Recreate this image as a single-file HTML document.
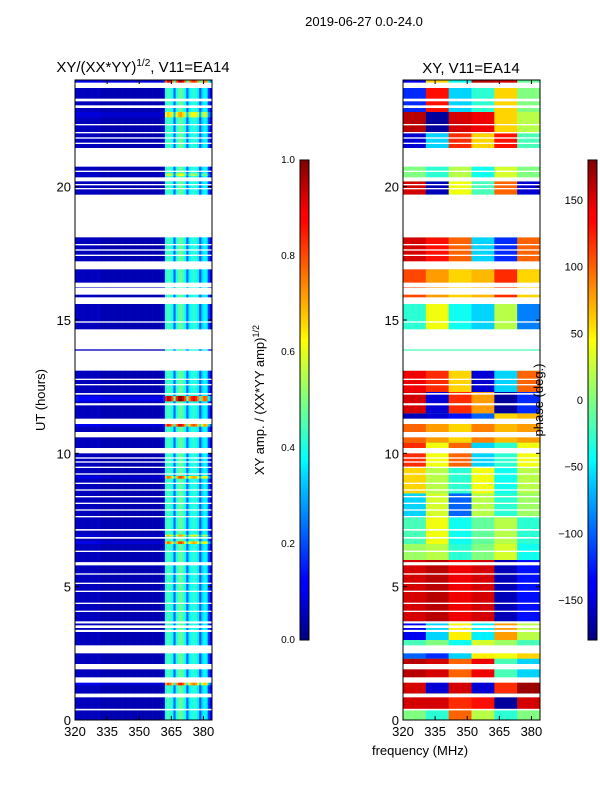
<!DOCTYPE html>
<html><head><meta charset="utf-8"><style>
body{margin:0;background:#fff;}
svg text{font-family:"Liberation Sans",sans-serif;}
</style></head><body>
<svg id="fig" width="600" height="800" xmlns="http://www.w3.org/2000/svg">
<rect width="600" height="800" fill="#fff"/>
<text x="364" y="26" font-size="13" text-anchor="middle">2019-06-27 0.0-24.0</text>
<text x="143" y="72" font-size="15" text-anchor="middle">XY/(XX*YY)<tspan font-size="10" dy="-6">1/2</tspan><tspan dy="6">, V11=EA14</tspan></text>
<text x="471" y="73" font-size="15" text-anchor="middle">XY, V11=EA14</text>
<g id="left"></g>
<g id="right"></g>
<g id="axes"></g>
<text x="45" y="400" font-size="13" text-anchor="middle" transform="rotate(-90 45 400)">UT (hours)</text>
<text x="420" y="755" font-size="13" text-anchor="middle">frequency (MHz)</text>
<text x="264" y="400" font-size="13" text-anchor="middle" transform="rotate(-90 264 400)">XY amp. / (XX*YY amp)<tspan font-size="9" dy="-5">1/2</tspan></text>
<text x="543" y="400" font-size="13" text-anchor="middle" transform="rotate(-90 543 400)">phase (deg.)</text>
<defs>
<linearGradient id="jet" x1="0" y1="1" x2="0" y2="0">
<stop offset="0" stop-color="#00007f"/><stop offset="0.11" stop-color="#0000ff"/><stop offset="0.125" stop-color="#0000ff"/>
<stop offset="0.34" stop-color="#00d5ff"/><stop offset="0.375" stop-color="#00ffff"/><stop offset="0.5" stop-color="#7fff7f"/>
<stop offset="0.625" stop-color="#ffff00"/><stop offset="0.66" stop-color="#ffd500"/><stop offset="0.875" stop-color="#ff0000"/>
<stop offset="0.89" stop-color="#ff0000"/><stop offset="1" stop-color="#7f0000"/></linearGradient>
</defs>
<rect x="300" y="160" width="9" height="480" fill="url(#jet)" stroke="#000" stroke-width="1"/>
<rect x="588" y="160" width="9" height="480" fill="url(#jet)" stroke="#000" stroke-width="1"/>
<g id="cbticks"></g>
</svg>
<script>
const NS="http://www.w3.org/2000/svg";
const ampChannels=[0.07,0.07,0.06,0.06,0.06,0.06,0.06,0.06,0.06,0.06,0.06,0.06,0.05,0.05,0.05,0.05,0.05,0.05,0.05,0.05,0.05,0.05,0.05,0.05,0.05,0.05,0.05,0.05,0.05,0.05,0.05,0.05,0.05,0.05,0.05,0.05,0.05,0.05,0.05,0.05,0.05,0.08,0.40,0.45,0.43,0.38,0.22,0.40,0.46,0.48,0.44,0.38,0.22,0.36,0.40,0.42,0.40,0.36,0.20,0.34,0.38,0.36,0.18,0.12];
const hotRows=[[11.95,12.15,2.1],[11.0,11.12,1.9],[9.05,9.15,1.7],[6.6,6.7,1.7],[6.88,6.95,1.5],[1.3,1.48,1.8],[0.85,0.95,1.4],[23.85,24,2.0],[22.6,22.8,1.5],[20.4,20.5,1.3]];
const gaps=[[0.36,0.42],[0.85,0.99],[1.4,1.6],[1.9,2.1],[2.5,2.8],[3.3,3.38],[3.45,3.55],[3.62,3.7],[4.05,4.1],[4.35,4.4],[4.8,4.85],[5.1,5.15],[5.45,5.5],[5.8,5.92],[6.3,6.35],[6.8,6.86],[7.1,7.16],[7.6,7.65],[7.85,7.9],[8.1,8.15],[8.35,8.4],[8.6,8.65],[8.85,8.9],[9.2,9.25],[9.45,9.5],[9.65,9.7],[9.8,9.85],[10.0,10.2],[10.6,10.8],[11.1,11.3],[11.8,11.88],[12.2,12.26],[12.55,12.6],[12.75,12.8],[13.1,13.85],[13.9,14.65],[14.9,14.95],[15.6,15.85],[15.95,16.2],[16.22,16.4],[16.9,17.2],[17.4,17.45],[17.6,17.65],[17.8,17.85],[18.1,19.7],[19.9,19.95],[20.05,20.1],[20.2,20.35],[20.55,20.6],[20.75,21.45],[21.6,21.65],[21.8,21.85],[22.0,22.05],[22.3,22.35],[22.95,23.05],[23.2,23.3],[23.7,23.9]];
const phaseBands=[[0,0.4],[0.4,1.0],[1.0,1.5],[1.5,2.3],[2.3,2.6],[2.6,3.0],[3.0,3.7],[3.7,6.0],[6.0,6.6],[6.6,7.6],[7.6,8.5],[8.5,9.5],[9.5,10.4],[10.4,11.1],[11.1,11.5],[11.5,12.3],[12.3,13.1],[14.65,15.8],[15.8,16.9],[16.9,18.1],[19.7,20.2],[20.2,20.75],[21.45,22.0],[22.0,22.8],[22.8,23.7],[23.7,24]];
const phaseValues=[[0,-30,100,20,-30,0],[150,150,120,130,-170,150],[150,-150,150,-150,120,170],[160,150,100,140,-20,-60],[-100,-120,-60,50,40,60],[-20,0,-40,30,10,-20],[-140,-60,50,-50,80,20],[150,160,140,150,-160,-130],[10,20,-30,0,30,-40],[-20,40,-40,-10,20,-30],[-60,30,-100,20,-30,10],[60,20,-30,40,-40,20],[120,40,100,-60,-30,40],[100,80,60,90,70,80],[-160,-150,-130,-100,60,70],[150,-150,120,80,-170,-120],[140,120,60,-150,-60,100],[-30,40,-40,-60,20,-90],[110,80,60,70,120,60],[150,130,100,-60,-120,100],[150,-160,40,-20,100,-150],[0,-30,20,-40,30,0],[-150,-60,120,60,130,-20],[160,-170,150,140,60,20],[-120,130,-60,-30,60,0],[-140,60,-40,160,150,-10]];
const xTicks=[320,335,350,365,380];
const yTicks=[0,5,10,15,20];
const ampTicks=["0.0","0.2","0.4","0.6","0.8","1.0"];
const phaseTicks=["-150","-100","-50","0","50","100","150"];

function jet(v){v=Math.max(0,Math.min(1,v));
 const r=Math.max(0,Math.min(1,1.5-Math.abs(4*v-3))),g=Math.max(0,Math.min(1,1.5-Math.abs(4*v-2))),b=Math.max(0,Math.min(1,1.5-Math.abs(4*v-1)));
 return `rgb(${Math.round(r*255)},${Math.round(g*255)},${Math.round(b*255)})`;}
const Y=h=>720-h*(640/24);
const XL=f=>75+(f-320)*(137/64);
const XR=f=>403+(f-320)*(137/64);
function rect(g,x,y,w,h,fill,name){const r=document.createElementNS(NS,'rect');
 r.setAttribute('x',x);r.setAttribute('y',y);r.setAttribute('width',w);r.setAttribute('height',h);r.setAttribute('fill',fill);
 
 
 g.appendChild(r);return r;}
const L=document.getElementById('left'),R=document.getElementById('right');
ampChannels.forEach((a,i)=>{rect(L,XL(320+i),Y(24),XL(321+i)-XL(320+i)+0.3,Y(0)-Y(24),jet(a),'amp-cell');});
hotRows.forEach(h=>{ampChannels.forEach((a,i)=>{rect(L,XL(320+i),Y(h[1]),XL(321+i)-XL(320+i)+0.3,Y(h[0])-Y(h[1]),jet(a*h[2]),'amp-cell');});});
rect(R,XR(320),Y(24),137,640,jet(0.45),'phase-background');
phaseBands.forEach((b,j)=>{phaseValues[j].forEach((p,k)=>{const f0=320+k*64/6,f1=320+(k+1)*64/6;
 rect(R,XR(f0),Y(b[1]),XR(f1)-XR(f0)+0.3,Y(b[0])-Y(b[1]),jet((p+180)/360),'phase-cell');});});
gaps.forEach(g=>{rect(L,75,Y(g[1]),137,Y(g[0])-Y(g[1]),'#fff','flagged-gap');rect(R,403,Y(g[1]),137,Y(g[0])-Y(g[1]),'#fff','flagged-gap');});
const A=document.getElementById('axes');
function line(x1,y1,x2,y2,name){const l=document.createElementNS(NS,'line');l.setAttribute('x1',x1);l.setAttribute('y1',y1);l.setAttribute('x2',x2);l.setAttribute('y2',y2);l.setAttribute('stroke','#000');
 
 
 A.appendChild(l);}
function text(x,y,s,anchor,name){const t=document.createElementNS(NS,'text');t.setAttribute('x',x);t.setAttribute('y',y);t.setAttribute('font-size','13');t.setAttribute('text-anchor',anchor);t.textContent=s;
 
 
 A.appendChild(t);}
[[75,XL],[403,XR]].forEach(([x0,X])=>{
 const fr=rect(A,x0,80,137,640,'none','axes-frame');fr.setAttribute('stroke','#000');
 xTicks.forEach(t=>{line(X(t),720,X(t),716,'x-tick');line(X(t),80,X(t),84,'x-tick');text(X(t),736,String(t),'middle','x-tick-label');});
 yTicks.forEach(t=>{line(x0,Y(t),x0+4,Y(t),'y-tick');line(x0+137,Y(t),x0+133,Y(t),'y-tick');text(x0-4,Y(t)+5,String(t),'end','y-tick-label');});
});
ampTicks.forEach((s,i)=>{const y=640-i*96;const t=document.createElementNS(NS,'text');t.setAttribute('x',295);t.setAttribute('y',y+3);t.setAttribute('font-size','10');t.setAttribute('text-anchor','end');t.textContent=s;
 
 
 A.appendChild(t);});
phaseTicks.forEach(s=>{const y=400-Number(s)*(480/360);const t=document.createElementNS(NS,'text');t.setAttribute('x',583);t.setAttribute('y',y+4);t.setAttribute('font-size','11');t.setAttribute('text-anchor','end');t.textContent=s.replace('-','\u2212');
 
 
 A.appendChild(t);});
</script>
</body></html>
